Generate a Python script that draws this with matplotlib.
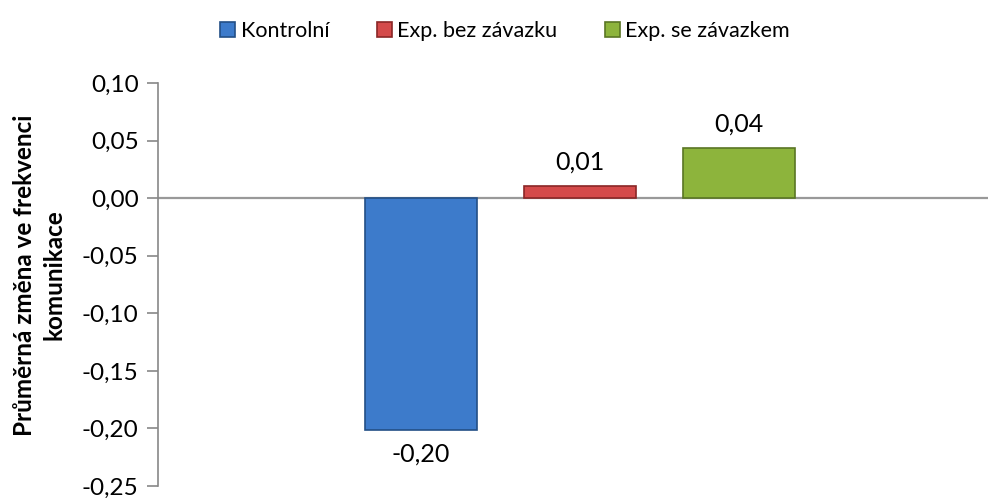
import numpy as np
import matplotlib.pyplot as plt

plt.rcParams['font.family'] = ['Lato', 'DejaVu Sans']

# data
series = ['Kontrolní', 'Exp. bez závazku', 'Exp. se závazkem']
values = [-0.201, 0.0105, 0.0437]
labels = ['-0,20', '0,01', '0,04']
yticks = [0.10, 0.05, 0.00, -0.05, -0.10, -0.15, -0.20, -0.25]

colors = ['#3d7bcb', '#d44a4a', '#8db43c']
edges = ['#234f86', '#8a2626', '#5a7624']

fig = plt.figure(figsize=(9.89, 4.98), dpi=100)
ax = fig.add_axes([158/989, 1 - 486/498, (988-158)/989, (486-83)/498])

pos = np.arange(len(series)) - 1
for i in range(len(series)):
    ax.bar(pos[i], values[i], width=0.7, color=colors[i], edgecolor=edges[i],
           linewidth=1.2, label=series[i], zorder=3)
    if values[i] < 0:
        ax.text(pos[i], values[i] - 0.011, labels[i], ha='center', va='top', fontsize=18)
    else:
        ax.text(pos[i], values[i] + 0.011, labels[i], ha='center', va='bottom', fontsize=18)

ax.axhline(0, color='#999999', lw=1.6, zorder=2)
ax.set_xlim(-2.654, 2.566)
ax.set_ylim(-0.25, 0.10)
ax.set_yticks(yticks)
ax.set_yticklabels([('%.2f' % t).replace('.', ',') for t in yticks], fontsize=17.5)
ax.set_xticks([])
for s in ['top', 'right', 'bottom']:
    ax.spines[s].set_visible(False)
ax.spines['left'].set_color('#888888')
ax.spines['left'].set_linewidth(1.2)
ax.tick_params(axis='y', direction='out', length=8, color='#888888', width=1.2, pad=6)

fig.text(39/989, 1 - 275/498, 'Průměrná změna ve frekvenci\nkomunikace', rotation=90,
         ha='center', va='center', fontsize=17.5, fontweight='bold', linespacing=1.35)

fig.legend(loc='center', bbox_to_anchor=(505/989, 1 - 31/498), ncol=3, frameon=False,
           fontsize=15.5, handlelength=0.7, handleheight=0.7, handletextpad=0.25,
           columnspacing=2.2)

fig.savefig('out.png', dpi=100)
